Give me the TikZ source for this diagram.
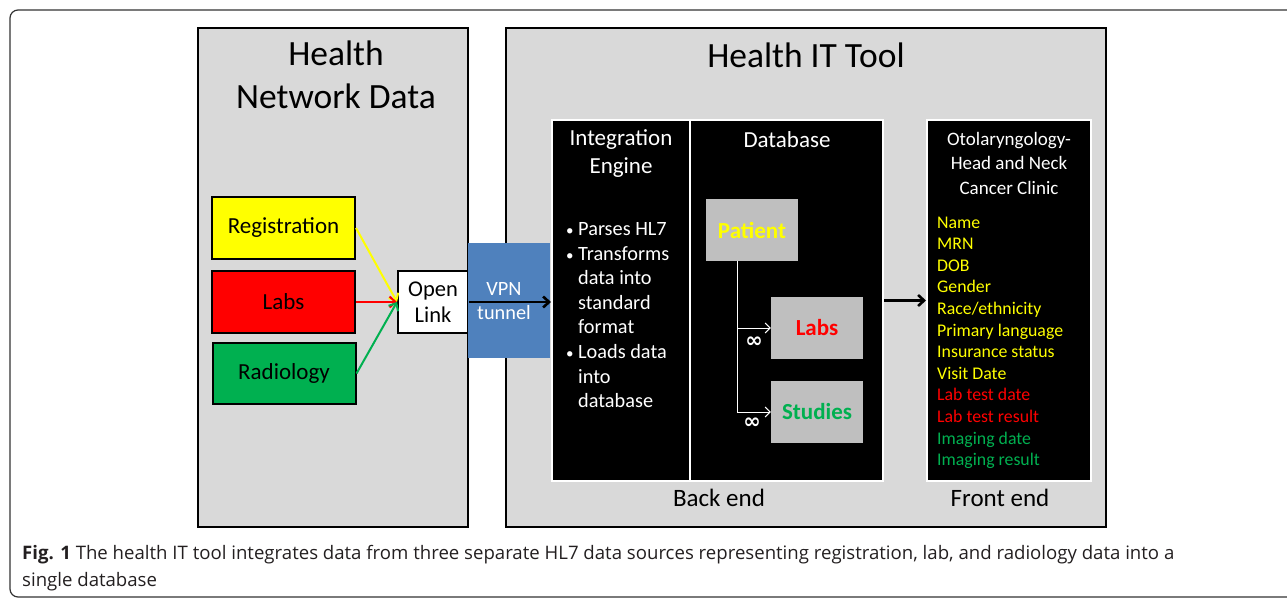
\documentclass[tikz,border=0pt]{standalone}
\usepackage{fontspec}
\setmainfont{Carlito}
\newfontfamily\capfont{Open Sans}
\newfontfamily\symfont{DejaVu Sans}
\usetikzlibrary{arrows.meta}

\definecolor{panelgray}{HTML}{D9D9D9}
\definecolor{tblgray}{HTML}{BFBFBF}
\definecolor{vpnblue}{HTML}{4F81BD}
\definecolor{srcyellow}{HTML}{FFFF00}
\definecolor{srcred}{HTML}{FF0000}
\definecolor{srcgreen}{HTML}{00B050}
\definecolor{captext}{HTML}{231F20}

\newcommand{\fs}[2]{\fontsize{#1}{#2}\selectfont}
\newcommand{\bul}{\makebox[12pt][l]{\fs{15}{15}\textbullet}}
\newcommand{\nobul}{\makebox[12pt][l]{}}

\tikzset{
  panel/.style={draw=black, line width=2.4pt, fill=panelgray, inner sep=0pt},
  srcbox/.style={draw=black, line width=2pt, minimum width=143pt, minimum height=62pt, inner sep=0pt, font=\fs{23}{27}},
  pane/.style={draw=white, line width=2pt, fill=black, inner sep=0pt, minimum height=361pt},
  tblbox/.style={fill=tblgray, minimum width=92pt, minimum height=62pt, inner sep=0pt, font=\bfseries\fs{23}{27}},
  flow/.style={line width=2pt, -{Straight Barb[length=6pt,width=11pt]}},
  treeline/.style={white, line width=1pt, -{Straight Barb[length=5pt,width=10pt]}},
}

\begin{document}
\begin{tikzpicture}[x=1pt, y=-1pt, every node/.style={inner sep=0pt}]
  \useasboundingbox (0,0) rectangle (1287,599);
  \draw[line width=1.2pt, black!80, rounded corners=8pt] (10,10) rectangle (1320,597);

  % left side: sources inside the hospital network
  \node[panel, minimum width=270pt, minimum height=499pt] (netbox) at (333,277.5) {};
  \node[font=\fs{35.5}{43}, align=center] (nettitle) at (336,75) {Health\\Network Data};
  \node[srcbox, fill=srcyellow] (reg) at (283.5,228) {Registration};
  \node[srcbox, fill=srcred] (labs) at (283.5,302) {Labs};
  \node[srcbox, fill=srcgreen, minimum height=61pt] (rad) at (284,373.5) {Radiology};
  \node[draw=black, line width=2pt, fill=white, minimum width=70pt, minimum height=62pt,
        align=center, font=\fs{22.5}{26}] (link) at (433,302) {Open\\Link};

  % right side: the tool itself
  \node[panel, minimum width=600pt, minimum height=499pt] (toolbox) at (806,277.5) {};
  \node[font=\fs{35.5}{43}] (tooltitle) at (806,55) {Health IT Tool};
  \node[fill=vpnblue, minimum width=82pt, minimum height=115pt] (vpn) at (509,300.5) {};
  \node[text=white, align=center, font=\fs{20.3}{24}] (vpnlbl) at (504,301) {VPN\\tunnel};

  \node[pane, minimum width=138pt] (intpane) at (621,300.5) {};
  \node[pane, minimum width=193pt] (dbpane) at (786.5,300.5) {};
  \node[pane, minimum width=164pt] (frontpane) at (1009,300.5) {};

  \node[text=white, align=center, font=\fs{23}{28}] (inttitle) at (621,154) {Integration\\Engine};
  \foreach \ln [count=\i] in {\bul Parses HL7, \bul Transforms, \nobul data into, \nobul standard,
                              \nobul format, \bul Loads data, \nobul into, \nobul database}
    \node[anchor=base west, text=white, font=\fs{20.3}{24}] (step\i) at (566,{235.5+24.6*(\i-1)}) {\ln};

  \node[text=white, font=\fs{23}{27}] (dbtitle) at (787,140) {Database};
  \node[tblbox, text=srcyellow] (pat) at (752,230) {Patient};
  \node[tblbox, text=srcred] (dblabs) at (817,328) {Labs};
  \node[tblbox, text=srcgreen] (dbstud) at (817,412) {Studies};
  \draw[treeline] ([xshift=-15pt]pat.south) |- (dblabs.west);
  \draw[treeline] ([xshift=-15pt]pat.south) |- (dbstud.west);
  \node[text=white, font=\symfont\bfseries\fs{21}{21}] (inf1) at (754,342) {∞};
  \node[text=white, font=\symfont\bfseries\fs{21}{21}] (inf2) at (752,423) {∞};

  \node[text=white, align=center, font=\fs{19}{24.5}] (fronttitle) at (1009,163)
    {Otolaryngology-\\Head and Neck\\Cancer Clinic};
  \foreach \fld/\col [count=\i] in {Name/srcyellow, MRN/srcyellow, DOB/srcyellow, Gender/srcyellow,
      {Race/ethnicity}/srcyellow, Primary language/srcyellow, Insurance status/srcyellow,
      Visit Date/srcyellow, Lab test date/srcred, Lab test result/srcred,
      Imaging date/srcgreen, Imaging result/srcgreen}
    \node[anchor=base west, text=\col, font=\fs{17.8}{20}] (fld\i) at (937,{228+21.6*(\i-1)}) {\fld};

  \node[font=\fs{25}{28}] (backlbl) at (719,498) {Back end};
  \node[font=\fs{25}{28}] (frontlbl) at (1000,498) {Front end};

  % data flow
  \draw[flow, srcyellow] (reg.east) -- (link.west);
  \draw[flow, srcred] (labs.east) -- (link.west);
  \draw[flow, srcgreen] (rad.east) -- (link.west);
  \draw[flow, line width=2.6pt] (link.east) -- (link.east -| intpane.west);
  \draw[flow, line width=2.6pt] (dbpane.east) -- (frontpane.west);

  % caption
  \node[anchor=base west, text=captext, font=\capfont\fs{18.6}{27}] (cap1) at (22,559)
    {\textbf{Fig. 1} The health IT tool integrates data from three separate HL7 data sources representing registration, lab, and radiology data into a};
  \node[anchor=base west, text=captext, font=\capfont\fs{18.6}{27}] (cap2) at (22,586) {single database};
\end{tikzpicture}
\end{document}
